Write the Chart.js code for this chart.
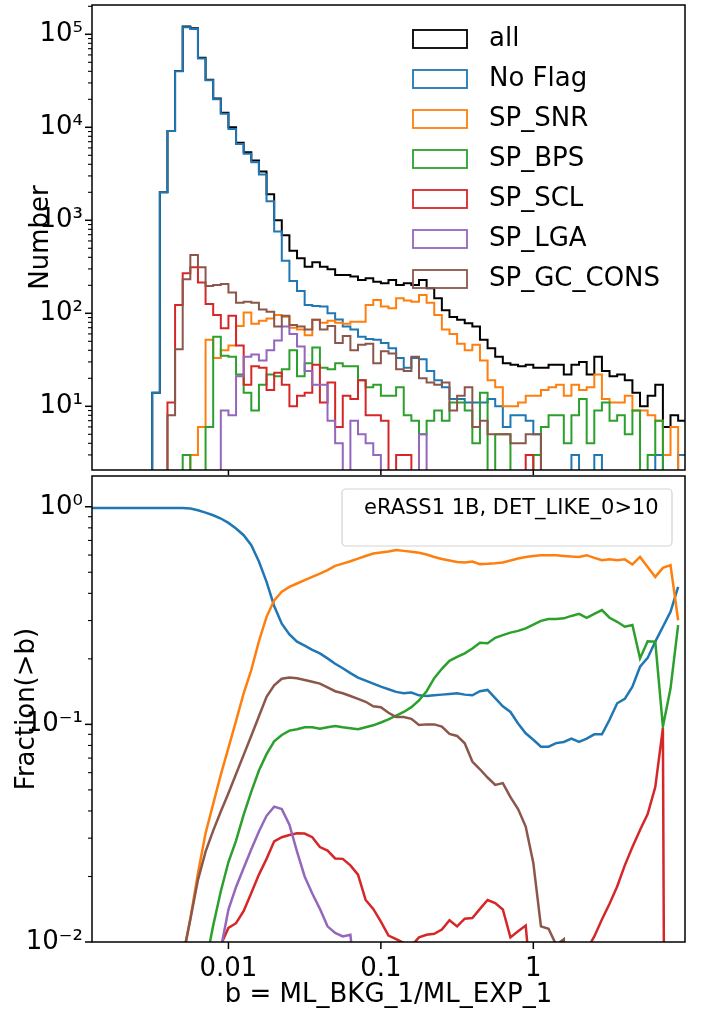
<!DOCTYPE html>
<html lang="en">
<head>
<meta charset="UTF-8">
<title>eRASS1 flags vs ML_BKG_1/ML_EXP_1</title>
<script src="https://cdn.jsdelivr.net/npm/chart.js"></script>
<style>
  html, body { margin: 0; padding: 0; background: #fff; }
  #wrap { position: relative; width: 702px; height: 1016px; overflow: hidden; }
  canvas { position: absolute; left: 0; }
  #histChart { top: 0; }
  #fracChart { top: 470px; }
</style>
</head>
<body>
<div id="wrap">
  <canvas id="histChart" width="702" height="475"></canvas>
  <canvas id="fracChart" width="702" height="546"></canvas>
</div>
<script>
// ---- data ----
// histogram bins: 0.05 dex wide in b, left edge of bin 0 at b = 10^-2.9
const binEdges = Array.from({ length: 79 }, (_, i) => Math.pow(10, -2.9 + 0.05 * i));

const seriesNames = ['all', 'No Flag', 'SP_SNR', 'SP_BPS', 'SP_SCL', 'SP_LGA', 'SP_GC_CONS'];

// counts per bin (78 bins)
const countAll = [
  0, 0, 0, 0, 0, 0, 0, 0, 14, 2000,
  9150, 40200, 121000, 116000, 56000, 32500, 20400, 14300, 10000, 6800,
  5400, 4400, 3350, 1900, 1000, 690, 471, 390, 317, 353,
  317, 297, 258, 258, 248, 228, 238, 219, 210, 228,
  201, 210, 201, 228, 186, 145, 108, 91, 85, 78,
  72, 52, 42, 34, 29, 28, 27, 28, 26, 26,
  28, 28, 22, 28, 30, 22, 34, 24, 21, 22,
  19, 14, 10, 13, 17, 6, 8, 7];
const countNoFlag = [
  0, 0, 0, 0, 0, 0, 0, 0, 14, 2000,
  9100, 40000, 119000, 114000, 55000, 32000, 20000, 14000, 9600, 6600,
  5200, 4200, 3100, 1600, 760, 368, 222, 174, 123, 120,
  118, 100, 86, 72, 67, 56, 53, 52, 48, 42,
  33, 26, 33, 32, 24, 19, 16, 12, 12, 11,
  11, 11, 12, 10, 6, 8, 8, 7, 5, 2,
  1, 2, 1, 3, 2, 1, 3, 0, 0, 2,
  1, 0, 1, 1, 3, 1, 2, 3];
const countSNR = [
  0, 0, 0, 0, 0, 0, 0, 0, 0, 0,
  0, 0, 0, 3, 6, 52, 33, 40, 45, 73,
  102, 77, 83, 88, 96, 92, 70, 67, 58, 85,
  79, 83, 79, 77, 81, 81, 123, 139, 118, 113,
  145, 137, 133, 157, 130, 96, 67, 60, 47, 40,
  46, 31, 19, 16, 10, 10, 11, 13, 13, 15,
  16, 17, 13, 17, 15, 16, 22, 12, 11, 11,
  13, 9, 9, 8, 7, 3, 6, 2];
const countBPS = [
  0, 0, 0, 0, 0, 0, 0, 0, 0, 0,
  0, 0, 3, 0, 0, 6, 56, 35, 34, 22,
  14, 9, 17, 22, 21, 25, 40, 21, 29, 43,
  26, 25, 29, 27, 27, 19, 16, 17, 13, 13,
  16, 8, 7, 5, 7, 9, 7, 11, 11, 9,
  4, 14, 2, 5, 5, 2, 2, 1, 3, 6,
  8, 8, 4, 8, 12, 4, 9, 11, 7, 8,
  5, 9, 0, 3, 7, 0, 0, 2];
const countSCL = [
  0, 0, 0, 0, 0, 0, 0, 0, 0, 0,
  11, 123, 269, 312, 214, 126, 96, 69, 94, 45,
  17, 27, 26, 15, 23, 17, 10, 13, 14, 28,
  11, 18, 6, 13, 12, 19, 8, 8, 7, 0,
  3, 3, 0, 2, 2, 1, 0, 1, 0, 1,
  0, 1, 1, 1, 2, 0, 0, 3, 0, 0,
  0, 0, 0, 0, 0, 0, 0, 0, 0, 0,
  0, 0, 0, 0, 0, 2, 0, 0];
const countLGA = [
  0, 0, 0, 0, 0, 0, 0, 0, 0, 0,
  0, 0, 0, 0, 0, 0, 0, 9, 8, 21,
  34, 36, 31, 40, 51, 72, 60, 44, 24, 17,
  17, 7, 4, 1, 7, 5, 4, 3, 0, 0,
  0, 0, 0, 5, 0, 0, 0, 0, 0, 0,
  0, 0, 0, 0, 0, 0, 0, 0, 0, 0,
  0, 0, 0, 0, 0, 0, 0, 0, 0, 0,
  0, 0, 0, 0, 0, 0, 0, 0];
const countGC = [
  0, 0, 0, 0, 0, 0, 0, 0, 0, 0,
  8, 41, 232, 423, 312, 197, 202, 206, 167, 130,
  133, 130, 110, 104, 72, 94, 75, 72, 67, 85,
  67, 73, 48, 57, 40, 46, 47, 29, 39, 37,
  25, 24, 34, 20, 18, 17, 18, 9, 13, 16,
  6, 7, 5, 5, 5, 4, 4, 5, 5, 1,
  1, 1, 2, 0, 0, 0, 0, 0, 0, 0,
  0, 0, 0, 0, 0, 0, 0, 0];

// fraction of sources above b, evaluated at each bin's left edge (78 points)
const fracNoFlag = [
  0.987, 0.987, 0.987, 0.987, 0.987, 0.987, 0.987, 0.987, 0.987, 0.987,
  0.987, 0.987, 0.986, 0.981, 0.964, 0.94, 0.914, 0.883, 0.843, 0.794,
  0.74, 0.666, 0.56, 0.452, 0.35, 0.29, 0.259, 0.24, 0.23, 0.22,
  0.212, 0.201, 0.19, 0.181, 0.172, 0.164, 0.159, 0.154, 0.149, 0.145,
  0.141, 0.139, 0.14, 0.136, 0.135, 0.136, 0.137, 0.138, 0.139, 0.137,
  0.136, 0.142, 0.144, 0.132, 0.121, 0.114, 0.101, 0.091, 0.085, 0.079,
  0.079, 0.082, 0.083, 0.086, 0.083, 0.086, 0.09, 0.09, 0.105, 0.125,
  0.131, 0.149, 0.184, 0.202, 0.24, 0.281, 0.329, 0.428];
const fracSNR = [
  0.0076, 0.0076, 0.0076, 0.0076, 0.0076, 0.0076, 0.0076, 0.0076, 0.0076, 0.0076,
  0.0076, 0.0078, 0.0084, 0.0128, 0.0207, 0.0316, 0.0431, 0.0588, 0.078, 0.1037,
  0.139, 0.178, 0.241, 0.312, 0.371, 0.407, 0.428, 0.444, 0.46, 0.476,
  0.493, 0.511, 0.535, 0.548, 0.562, 0.578, 0.594, 0.61, 0.616, 0.623,
  0.632, 0.627, 0.621, 0.614, 0.603, 0.588, 0.575, 0.566, 0.558, 0.555,
  0.56, 0.545, 0.547, 0.55, 0.555, 0.566, 0.578, 0.588, 0.594, 0.599,
  0.599, 0.599, 0.594, 0.59, 0.588, 0.599, 0.582, 0.568, 0.573, 0.568,
  0.573, 0.543, 0.588, 0.529, 0.476, 0.524, 0.539, 0.301];
const fracBPS = [
  0.0019, 0.0019, 0.0019, 0.0019, 0.0019, 0.0019, 0.0019, 0.0019, 0.0019, 0.0019,
  0.0019, 0.0019, 0.0021, 0.0031, 0.0052, 0.0079, 0.0119, 0.0171, 0.0233, 0.0292,
  0.0385, 0.0491, 0.0614, 0.073, 0.0836, 0.0894, 0.0936, 0.095, 0.097, 0.097,
  0.0955, 0.097, 0.0984, 0.097, 0.096, 0.095, 0.097, 0.099, 0.102, 0.1055,
  0.1096, 0.114, 0.12, 0.129, 0.142, 0.163, 0.18, 0.196, 0.204, 0.212,
  0.223, 0.237, 0.236, 0.25, 0.257, 0.264, 0.269, 0.276, 0.287, 0.299,
  0.305, 0.305, 0.307, 0.315, 0.322, 0.309, 0.322, 0.335, 0.309, 0.296,
  0.281, 0.286, 0.201, 0.241, 0.24, 0.0977, 0.146, 0.286];
const fracSCL = [
  0.0037, 0.0037, 0.0037, 0.0037, 0.0037, 0.0037, 0.0037, 0.0037, 0.0037, 0.0037,
  0.0037, 0.0038, 0.0039, 0.0046, 0.0059, 0.007, 0.0083, 0.0097, 0.0116, 0.0122,
  0.0139, 0.0168, 0.0204, 0.0241, 0.029, 0.0303, 0.031, 0.0316, 0.0315, 0.0303,
  0.0273, 0.0263, 0.0242, 0.0241, 0.0225, 0.0204, 0.0156, 0.0142, 0.0124, 0.0107,
  0.0103, 0.0099, 0.0096, 0.0105, 0.0108, 0.0109, 0.0114, 0.0126, 0.0118, 0.0128,
  0.0129, 0.0142, 0.0156, 0.0151, 0.0141, 0.0105, 0.0112, 0.0119, 0.0049, 0.0053,
  0.0057, 0.0062, 0.0067, 0.0073, 0.0081, 0.0092, 0.0106, 0.0127, 0.015, 0.018,
  0.0225, 0.0273, 0.0327, 0.0387, 0.0515, 0.096, 0, 0];
const fracLGA = [
  0.0011, 0.0011, 0.0011, 0.0011, 0.0011, 0.0011, 0.0011, 0.0011, 0.0011, 0.0011,
  0.0011, 0.0011, 0.0011, 0.0018, 0.0031, 0.0046, 0.0067, 0.0093, 0.0141, 0.0179,
  0.0219, 0.0267, 0.0322, 0.038, 0.0419, 0.0408, 0.0346, 0.026, 0.02, 0.0167,
  0.0142, 0.0118, 0.011, 0.0106, 0.0108, 0.005, 0.0038, 0.0028, 0.0019, 0.002,
  0.0022, 0.0024, 0.0027, 0.0031, 0, 0, 0, 0, 0, 0,
  0, 0, 0, 0, 0, 0, 0, 0, 0, 0,
  0, 0, 0, 0, 0, 0, 0, 0, 0, 0,
  0, 0, 0, 0, 0, 0, 0, 0];
const fracGC = [
  0.0079, 0.0079, 0.0079, 0.0079, 0.0079, 0.0079, 0.0079, 0.0079, 0.0079, 0.0079,
  0.008, 0.0081, 0.0085, 0.0127, 0.0193, 0.026, 0.0325, 0.0398, 0.0483, 0.0592,
  0.0724, 0.0887, 0.109, 0.134, 0.151, 0.162, 0.164, 0.163, 0.16, 0.157,
  0.154, 0.148, 0.142, 0.139, 0.135, 0.131, 0.127, 0.121, 0.12, 0.113,
  0.108, 0.108, 0.106, 0.0993, 0.1, 0.1, 0.0977, 0.0904, 0.0885, 0.0819,
  0.0675, 0.0622, 0.057, 0.0527, 0.0537, 0.0463, 0.0408, 0.0339, 0.0231, 0.0118,
  0.0115, 0.0097, 0.0103, 0, 0, 0, 0, 0, 0, 0,
  0, 0, 0, 0, 0, 0, 0, 0];

const countTicks = [10, 100, 1000, 10000, 100000];
const countTickLabels = ['10¹', '10²', '10³', '10⁴', '10⁵'];
const fracTicks = [0.01, 0.1, 1];
const fracTickLabels = ['10⁻²', '10⁻¹', '10⁰'];
const bTicks = [0.01, 0.1, 1];
const bTickLabels = ['0.01', '0.1', '1'];
const noteText = 'eRASS1 1B, DET_LIKE_0>10';

// ---- style ----
const colors = ['#000000', '#1f77b4', '#ff7f0e', '#2ca02c', '#d62728', '#9467bd', '#8c564b'];
const FONT = "'DejaVu Sans', sans-serif";
Chart.defaults.font.family = FONT;
Chart.defaults.color = '#000';

const xMin = Math.pow(10, -2.895), xMax = Math.pow(10, 0.995);

// histogram as step line: value of bin k runs from edge k to edge k+1
function stepPoints(counts) {
  const pts = counts.map((c, k) => ({ x: binEdges[k], y: c > 0 ? c : 1e-3 }));
  pts.push({ x: binEdges[counts.length], y: pts[pts.length - 1].y });
  return pts;
}
// zero fraction is far below the axis (like matplotlib's log clipping)
function fracPoints(f) {
  return f.map((v, j) => ({ x: binEdges[j], y: v > 0 ? v : 1e-9 }));
}

// frame and outward tick marks, matplotlib style
const frameTicks = {
  id: 'frameTicks',
  afterDraw(chart) {
    const { ctx, chartArea: a, scales: { x, y } } = chart;
    ctx.save();
    ctx.strokeStyle = '#000';
    const line = (x1, y1, x2, y2, w) => {
      ctx.lineWidth = w; ctx.beginPath(); ctx.moveTo(x1, y1); ctx.lineTo(x2, y2); ctx.stroke();
    };
    const lo = Math.floor(Math.log10(y.min)), hi = Math.ceil(Math.log10(y.max));
    for (let d = lo; d <= hi; d++) {
      for (let m = 2; m < 10; m++) {
        const v = m * Math.pow(10, d);
        if (v <= y.min || v >= y.max) continue;
        const py = y.getPixelForValue(v);
        line(a.left - 4, py, a.left, py, 1.1);
      }
    }
    y.ticks.forEach(t => { const py = y.getPixelForValue(t.value); line(a.left - 7, py, a.left, py, 1.5); });
    x.ticks.forEach(t => { const px = x.getPixelForValue(t.value); line(px, a.bottom, px, a.bottom + 7, 1.5); });
    ctx.lineWidth = 1.5;
    ctx.strokeRect(a.left, a.top, a.right - a.left, a.bottom - a.top);
    ctx.restore();
  }
};

// legend with open rectangles, as drawn for step histograms
const stepLegend = {
  id: 'stepLegend',
  afterDraw(chart, args, o) {
    const { ctx } = chart;
    ctx.save();
    ctx.font = o.font;
    ctx.textBaseline = 'middle';
    chart.data.datasets.forEach((ds, i) => {
      const cy = o.top + i * o.gap;
      ctx.strokeStyle = ds.borderColor;
      ctx.lineWidth = 1.8;
      ctx.strokeRect(o.patchX, cy - o.patchH / 2, o.patchW, o.patchH);
      ctx.fillStyle = '#000';
      ctx.fillText(ds.label, o.textX, cy);
    });
    ctx.restore();
  }
};

const noteBox = {
  id: 'noteBox',
  afterDraw(chart, args, o) {
    const { ctx, chartArea: a } = chart;
    const bx = a.right - o.right - o.w, by = a.top + o.top;
    ctx.save();
    ctx.beginPath();
    ctx.roundRect(bx, by, o.w, o.h, 4);
    ctx.fillStyle = 'rgba(255,255,255,0.8)';
    ctx.fill();
    ctx.strokeStyle = '#d3d3d3';
    ctx.lineWidth = 1.2;
    ctx.stroke();
    ctx.fillStyle = '#000';
    ctx.font = o.font;
    ctx.textBaseline = 'middle';
    ctx.fillText(noteText, bx + o.padX, by + o.textY);
    ctx.restore();
  }
};

const n = seriesNames.length;
const countSeries = [countAll, countNoFlag, countSNR, countBPS, countSCL, countLGA, countGC];
const histSets = countSeries.map((c, i) => ({
  label: seriesNames[i],
  data: stepPoints(c),
  borderColor: colors[i],
  borderWidth: 2,
  stepped: 'before',
  pointRadius: 0,
  fill: false,
  clip: 0,
  order: n - i
}));

const fracSeries = [fracNoFlag, fracSNR, fracBPS, fracSCL, fracLGA, fracGC];
const fracSets = fracSeries.map((f, i) => ({
  label: seriesNames[i + 1],
  data: fracPoints(f),
  borderColor: colors[i + 1],
  borderWidth: 2.5,
  pointRadius: 0,
  tension: 0,
  fill: false,
  clip: 0,
  order: n - i
}));

const yTitleFont = { size: 26, family: FONT };
const tickFont = { size: 26, family: FONT };

new Chart(document.getElementById('histChart'), {
  type: 'line',
  data: { datasets: histSets },
  options: {
    responsive: false,
    animation: false,
    devicePixelRatio: 1,
    events: [],
    layout: { autoPadding: false, padding: { left: 0, right: 17, top: 5, bottom: 0 } },
    plugins: {
      legend: { display: false },
      tooltip: { enabled: false },
      stepLegend: { font: '26px ' + FONT, top: 39, gap: 40, patchX: 413, patchW: 54, patchH: 18, textX: 489 }
    },
    scales: {
      x: {
        type: 'logarithmic', min: xMin, max: xMax, bounds: 'data',
        grid: { display: false, drawTicks: false }, border: { display: false },
        ticks: { display: false },
        afterBuildTicks: s => { s.ticks = bTicks.map(v => ({ value: v })); },
        afterFit: s => { s.height = 5; s.paddingLeft = 0; s.paddingRight = 0; }
      },
      y: {
        type: 'logarithmic', min: Math.pow(10, 0.315), max: Math.pow(10, 5.315), bounds: 'data',
        grid: { display: false, drawTicks: false }, border: { display: false },
        ticks: { font: tickFont, padding: 9, autoSkip: false, callback: (v, i) => countTickLabels[i] },
        afterBuildTicks: s => { s.ticks = countTicks.map(v => ({ value: v })); },
        afterFit: s => { s.width = 92; s.paddingTop = 0; s.paddingBottom = 0; },
        title: { display: true, text: 'Number', font: yTitleFont, padding: { top: 26, bottom: 0 } }
      }
    }
  },
  plugins: [frameTicks, stepLegend]
});

new Chart(document.getElementById('fracChart'), {
  type: 'line',
  data: { datasets: fracSets },
  options: {
    responsive: false,
    animation: false,
    devicePixelRatio: 1,
    events: [],
    layout: { autoPadding: false, padding: { left: 0, right: 17, top: 6, bottom: 0 } },
    plugins: {
      legend: { display: false },
      tooltip: { enabled: false },
      noteBox: { font: '21px ' + FONT, right: 13, top: 13, w: 330, h: 57, padX: 22, textY: 20 }
    },
    scales: {
      x: {
        type: 'logarithmic', min: xMin, max: xMax, bounds: 'data',
        grid: { display: false, drawTicks: false }, border: { display: false },
        ticks: { font: tickFont, padding: 12, maxRotation: 0, autoSkip: false, callback: (v, i) => bTickLabels[i] },
        afterBuildTicks: s => { s.ticks = bTicks.map(v => ({ value: v })); },
        afterFit: s => { s.height = 74; s.paddingLeft = 0; s.paddingRight = 0; },
        title: { display: true, text: 'b = ML_BKG_1/ML_EXP_1', font: yTitleFont, padding: { top: 0, bottom: 5 } }
      },
      y: {
        type: 'logarithmic', min: 0.01, max: Math.pow(10, 0.1413), bounds: 'data',
        grid: { display: false, drawTicks: false }, border: { display: false },
        ticks: { font: tickFont, padding: 9, autoSkip: false, callback: (v, i) => fracTickLabels[i] },
        afterBuildTicks: s => { s.ticks = fracTicks.map(v => ({ value: v })); },
        afterFit: s => { s.width = 92; s.paddingTop = 0; s.paddingBottom = 0; },
        title: { display: true, text: 'Fraction(>b)', font: yTitleFont, padding: { top: 12, bottom: 0 } }
      }
    }
  },
  plugins: [frameTicks, noteBox]
});
</script>
</body>
</html>
